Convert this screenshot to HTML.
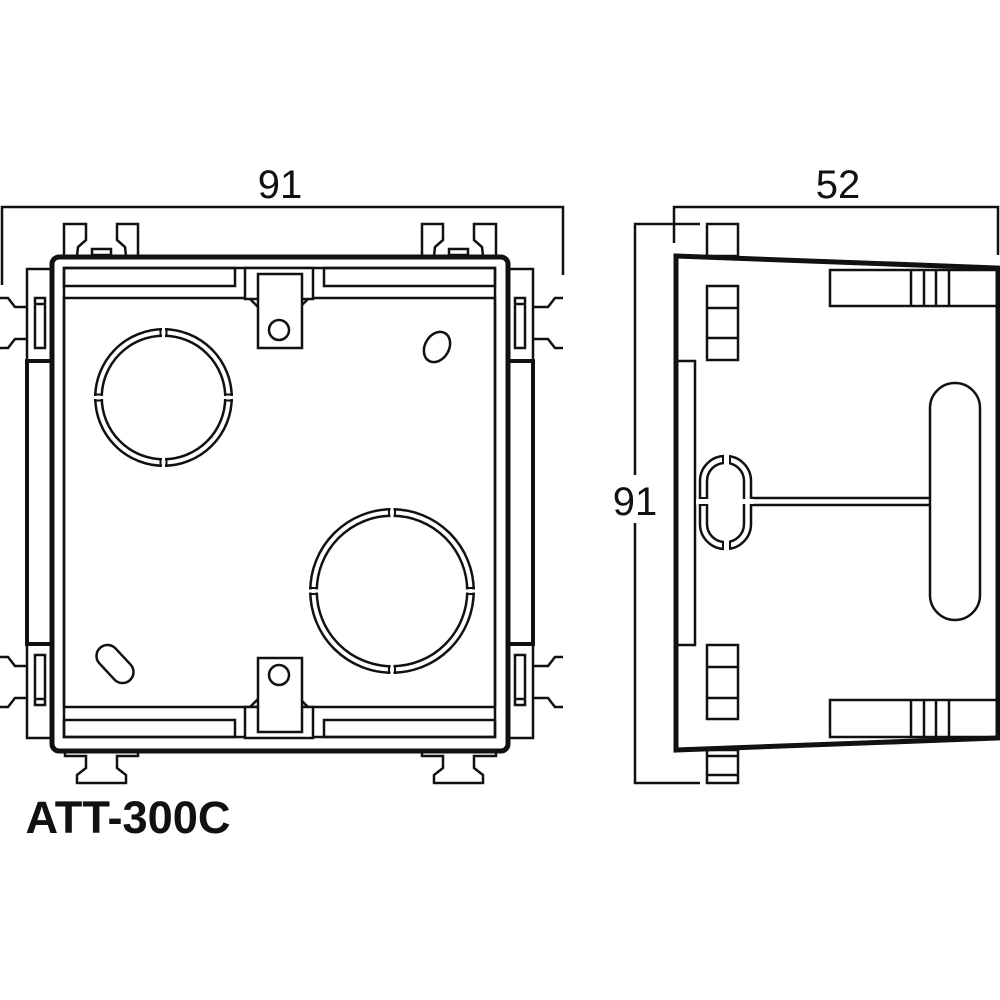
<!DOCTYPE html>
<html><head><meta charset="utf-8"><style>
html,body{margin:0;padding:0;background:#fff;}
svg{display:block;}
</style></head><body>
<svg width="1000" height="1000" viewBox="0 0 1000 1000" xmlns="http://www.w3.org/2000/svg">
<defs></defs>
<rect width="1000" height="1000" fill="#fff"/>
<g fill="none" stroke="#111" stroke-width="2.5" stroke-linejoin="miter">

<!-- ===== FRONT VIEW ===== -->
<!-- dimension -->
<path d="M2,285 L2,207 L563,207 L563,275"/>
<!-- left rail -->
<rect x="27" y="269" width="25" height="92"/>
<rect x="27" y="644" width="25" height="94"/>
<rect x="27" y="361" width="25" height="283" stroke-width="4"/>
<rect x="35" y="298" width="10" height="50"/><line x1="35" y1="304" x2="45" y2="304"/>
<rect x="35" y="655" width="10" height="50"/><line x1="35" y1="699" x2="45" y2="699"/>
<path d="M0,298 L8,298 L15,307 L27,307 M27,339 L15,339 L8,348 L0,348"/>
<path d="M0,657 L8,657 L15,666 L27,666 M27,698 L15,698 L8,707 L0,707"/>
<!-- right rail (mirror) -->
<rect x="508" y="269" width="25" height="92"/>
<rect x="508" y="644" width="25" height="94"/>
<rect x="508" y="361" width="25" height="283" stroke-width="4"/>
<rect x="515" y="298" width="10" height="50"/><line x1="515" y1="304" x2="525" y2="304"/>
<rect x="515" y="655" width="10" height="50"/><line x1="515" y1="699" x2="525" y2="699"/>
<path d="M563,298 L555,298 L548,307 L533,307 M533,339 L548,339 L555,348 L563,348"/>
<path d="M563,657 L555,657 L548,666 L533,666 M533,698 L548,698 L555,707 L563,707"/>
<!-- top clips -->
<path d="M64,256 L64,224 L86,224 L86,240 L78,247 L77,256"/>
<path d="M138,256 L138,224 L117,224 L117,240 L125,247 L126,256"/>
<rect x="92" y="249" width="19" height="6"/>
<path d="M422,256 L422,224 L443,224 L443,240 L435,247 L434,256"/>
<path d="M496,256 L496,224 L474,224 L474,240 L482,247 L483,256"/>
<rect x="449" y="249" width="19" height="6"/>
<!-- bottom clips -->
<path d="M65,752 L65,756 L86,756 L86,768 L77,775 L77,783 L126,783 L126,775 L117,768 L117,756 L138,756 L138,752"/>
<path d="M422,752 L422,756 L443,756 L443,768 L434,775 L434,783 L483,783 L483,775 L474,768 L474,756 L496,756 L496,752"/>
<!-- main box -->
<rect x="52" y="257" width="456" height="494" rx="7" fill="#fff" stroke-width="5"/>
<rect x="64" y="268" width="431" height="469"/>
<rect x="64" y="298" width="431" height="409"/>
<rect x="64" y="268" width="171" height="18"/>
<rect x="324" y="268" width="171" height="18"/>
<rect x="64" y="720" width="171" height="17"/>
<rect x="324" y="720" width="171" height="17"/>
<!-- top tab -->
<rect x="245" y="268" width="68" height="31" fill="#fff"/>
<path d="M250,299 L258,307 M308,299 L300,307"/>
<rect x="258" y="274" width="44" height="74" fill="#fff"/>
<circle cx="279" cy="330" r="10"/>
<!-- bottom tab -->
<rect x="245" y="707" width="68" height="31" fill="#fff"/>
<path d="M250,707 L258,699 M308,707 L300,699"/>
<rect x="258" y="658" width="44" height="74" fill="#fff"/>
<circle cx="279" cy="675" r="10"/>
<!-- small holes -->
<ellipse cx="437" cy="347" rx="12" ry="16" transform="rotate(30 437 347)"/>
<rect x="93" y="653" width="44" height="22" rx="11" transform="rotate(47 115 664)"/>
</g>

<!-- rings -->
<g fill="none">
 <g transform="translate(163.5,397.5)">
  <circle r="65" stroke="#111" stroke-width="9"/><circle r="65" stroke="#fff" stroke-width="4"/>
 </g>
 <g transform="translate(392,591)">
  <circle r="78.5" stroke="#111" stroke-width="9"/><circle r="78.5" stroke="#fff" stroke-width="4"/>
 </g>
 <g transform="translate(836,415)">
  <circle r="75.5" stroke="#111" stroke-width="9"/><circle r="75.5" stroke="#fff" stroke-width="4"/>
 </g>
 <g transform="translate(837,594)">
  <circle r="65.5" stroke="#111" stroke-width="9"/><circle r="65.5" stroke="#fff" stroke-width="4"/>
 </g>
</g>
<!-- gaps -->
<g stroke-width="2">
 <g transform="translate(163.5,397.5)">
  <g><rect x="-1.5" y="-72" width="3" height="14" fill="#fff"/><path d="M-3,-69.5 V-60.5 M3,-69.5 V-60.5" stroke="#111"/></g>
  <g transform="rotate(90)"><rect x="-1.5" y="-72" width="3" height="14" fill="#fff"/><path d="M-3,-69.5 V-60.5 M3,-69.5 V-60.5" stroke="#111"/></g>
  <g transform="rotate(180)"><rect x="-1.5" y="-72" width="3" height="14" fill="#fff"/><path d="M-3,-69.5 V-60.5 M3,-69.5 V-60.5" stroke="#111"/></g>
  <g transform="rotate(270)"><rect x="-1.5" y="-72" width="3" height="14" fill="#fff"/><path d="M-3,-69.5 V-60.5 M3,-69.5 V-60.5" stroke="#111"/></g>
 </g>
 <g transform="translate(392,591)">
  <g><rect x="-1.5" y="-85.5" width="3" height="14" fill="#fff"/><path d="M-3,-83 V-74 M3,-83 V-74" stroke="#111"/></g>
  <g transform="rotate(90)"><rect x="-1.5" y="-85.5" width="3" height="14" fill="#fff"/><path d="M-3,-83 V-74 M3,-83 V-74" stroke="#111"/></g>
  <g transform="rotate(180)"><rect x="-1.5" y="-85.5" width="3" height="14" fill="#fff"/><path d="M-3,-83 V-74 M3,-83 V-74" stroke="#111"/></g>
  <g transform="rotate(270)"><rect x="-1.5" y="-85.5" width="3" height="14" fill="#fff"/><path d="M-3,-83 V-74 M3,-83 V-74" stroke="#111"/></g>
 </g>
 <g transform="translate(836,415)">
  <g><rect x="-1.5" y="-82.5" width="3" height="14" fill="#fff"/><path d="M-3,-80 V-71 M3,-80 V-71" stroke="#111"/></g>
  <g transform="rotate(90)"><rect x="-1.5" y="-82.5" width="3" height="14" fill="#fff"/><path d="M-3,-80 V-71 M3,-80 V-71" stroke="#111"/></g>
  <g transform="rotate(180)"><rect x="-1.5" y="-82.5" width="3" height="14" fill="#fff"/><path d="M-3,-80 V-71 M3,-80 V-71" stroke="#111"/></g>
  <g transform="rotate(270)"><rect x="-1.5" y="-82.5" width="3" height="14" fill="#fff"/><path d="M-3,-80 V-71 M3,-80 V-71" stroke="#111"/></g>
 </g>
 <g transform="translate(837,594)">
  <g><rect x="-1.5" y="-72.5" width="3" height="14" fill="#fff"/><path d="M-3,-70 V-61 M3,-70 V-61" stroke="#111"/></g>
  <g transform="rotate(90)"><rect x="-1.5" y="-72.5" width="3" height="14" fill="#fff"/><path d="M-3,-70 V-61 M3,-70 V-61" stroke="#111"/></g>
  <g transform="rotate(180)"><rect x="-1.5" y="-72.5" width="3" height="14" fill="#fff"/><path d="M-3,-70 V-61 M3,-70 V-61" stroke="#111"/></g>
  <g transform="rotate(270)"><rect x="-1.5" y="-72.5" width="3" height="14" fill="#fff"/><path d="M-3,-70 V-61 M3,-70 V-61" stroke="#111"/></g>
 </g>
</g>

<!-- ===== SIDE VIEW ===== -->
<g fill="none" stroke="#111" stroke-width="2.5">
<path d="M674,243 L674,207 L998,207 L998,255"/>
<path d="M700,224 L635,224 L635,783 L700,783"/>
<rect x="707" y="224" width="31" height="32"/>
<rect x="707" y="750" width="31" height="33"/>
<line x1="707" y1="756" x2="738" y2="756"/><line x1="707" y1="775" x2="738" y2="775"/>
<path d="M676,256 L998,268 L998,738 L676,750 Z" fill="#fff" stroke-width="5"/>
<rect x="707" y="286" width="31" height="74"/>
<line x1="707" y1="308" x2="738" y2="308"/><line x1="707" y1="338" x2="738" y2="338"/>
<rect x="707" y="645" width="31" height="74"/>
<line x1="707" y1="667" x2="738" y2="667"/><line x1="707" y1="698" x2="738" y2="698"/>
<path d="M676,361 L695,361 L695,645 L676,645"/>
<rect x="830" y="270" width="168" height="36"/>
<path d="M911,270 V306 M924,270 V306 M936,270 V306 M949,270 V306"/>
<rect x="830" y="700" width="168" height="37"/>
<path d="M911,700 V737 M924,700 V737 M936,700 V737 M949,700 V737"/>
<rect x="930" y="383" width="50" height="237" rx="25"/>
<path d="M751,498 L930,498 M751,505 L930,505"/>
<rect x="700" y="456" width="51" height="93" rx="25"/>
<rect x="707" y="463" width="37" height="79" rx="18"/>
</g>
<g>
<rect x="724" y="452" width="5" height="16" fill="#fff"/>
<rect x="724" y="538" width="5" height="16" fill="#fff"/>
<rect x="696" y="499" width="16" height="5" fill="#fff"/>
<rect x="740" y="499" width="14" height="5" fill="#fff"/>
<path d="M723,456 V463 M730,456 V463 M723,542 V549 M730,542 V549 M700,498 H707 M700,505 H707" stroke="#111" stroke-width="2"/>
</g>

<!-- text -->
<g font-family="'Liberation Sans', sans-serif" fill="#111" text-anchor="middle">
<text x="280" y="198" font-size="40">91</text>
<text x="838" y="198" font-size="40">52</text>
<rect x="612" y="475" width="46" height="48" fill="#fff"/>
<text x="635" y="515" font-size="40">91</text>
<text x="128" y="833" font-size="45" font-weight="bold" textLength="205" lengthAdjust="spacingAndGlyphs">ATT-300C</text>
</g>
</svg>
</body></html>
